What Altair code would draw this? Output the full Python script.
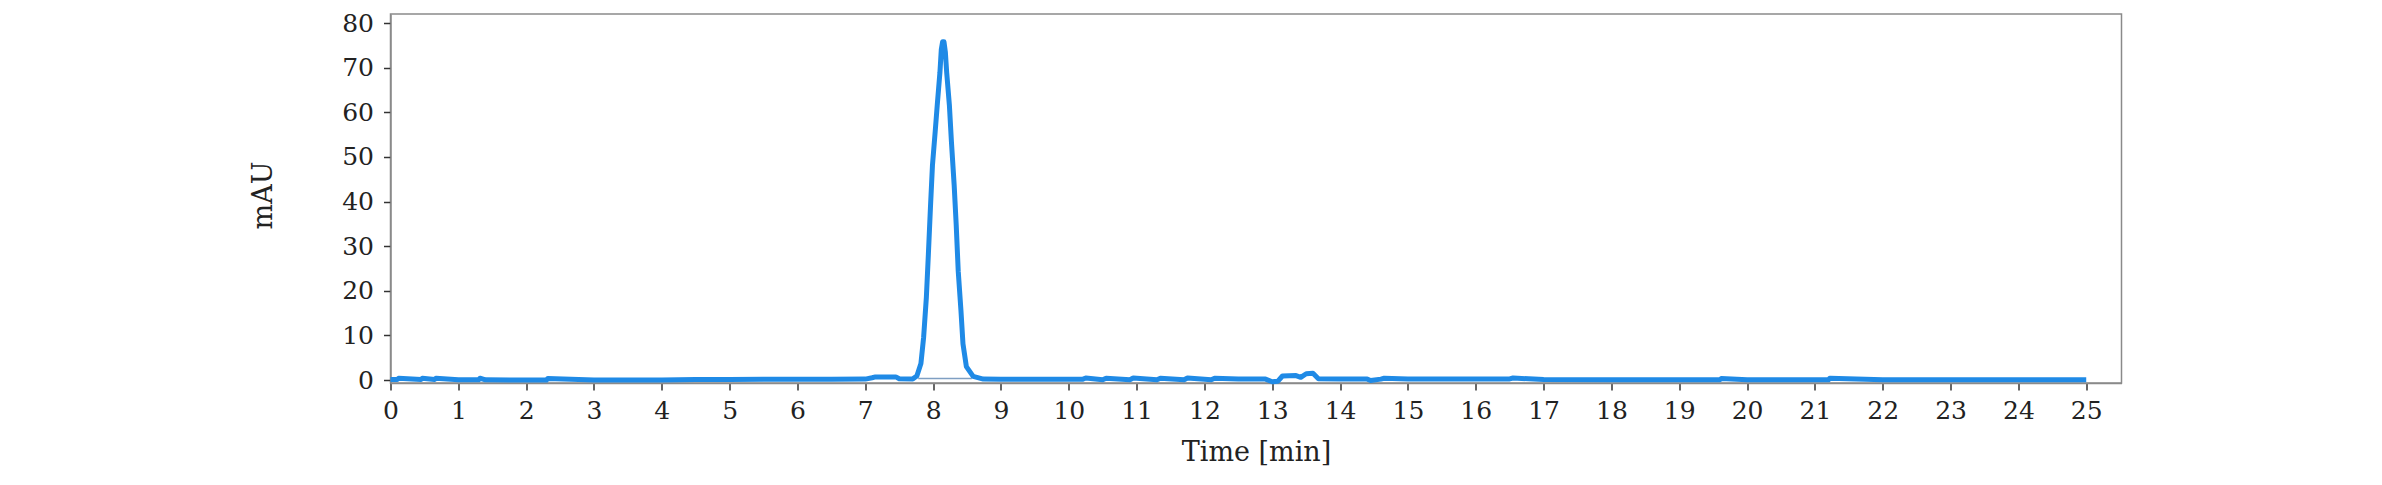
import altair as alt
import pandas as pd

# Chromatogram trace: time [min] and absorbance [mAU]
time_min = [0.0, 0.1, 0.12, 0.45, 0.47, 0.65, 0.67, 1.0, 1.3, 1.32, 1.4, 2.0, 2.3, 2.32,
            3.0, 4.0, 4.5, 5.0, 5.5, 6.0, 6.5, 7.0, 7.1, 7.15, 7.45, 7.5, 7.7,
            7.76, 7.82, 7.86, 7.90, 7.93, 7.96, 7.99, 8.03, 8.06, 8.10, 8.12, 8.14,
            8.16, 8.18, 8.20, 8.24, 8.27, 8.31, 8.34, 8.37, 8.41, 8.44, 8.49, 8.59,
            8.74, 9.0, 9.5, 10.0, 10.2, 10.25, 10.5, 10.55, 10.9, 10.95, 11.3, 11.35,
            11.7, 11.75, 12.1, 12.15, 12.5, 12.9, 13.0, 13.08, 13.15, 13.35, 13.42,
            13.5, 13.6, 13.68, 14.0, 14.4, 14.45, 14.6, 14.65, 15.0, 15.5, 16.0,
            16.5, 16.55, 17.0, 18.0, 19.0, 19.6, 19.62, 20.0, 20.8, 21.0, 21.2, 21.22,
            22.0, 23.0, 24.0, 25.0]
absorbance = [0.1, 0.1, 0.4, 0.1, 0.4, 0.1, 0.4, 0.05, 0.05, 0.4, 0.05, 0.0, 0.0, 0.35,
              0.0, 0.0, 0.1, 0.1, 0.15, 0.15, 0.15, 0.2, 0.5, 0.7, 0.7, 0.3, 0.25,
              0.9, 3.7, 9.6, 18.5, 28.2, 38.5, 48.1, 55.6, 61.5, 68.9, 74.0, 75.8,
              75.8, 73.5, 68.9, 61.5, 53.3, 43.7, 34.8, 24.4, 15.6, 8.1, 3.0, 0.8,
              0.2, 0.15, 0.15, 0.15, 0.15, 0.45, 0.05, 0.4, 0.05, 0.45, 0.05, 0.4,
              0.05, 0.45, 0.05, 0.4, 0.2, 0.2, -0.4, -0.3, 0.9, 1.0, 0.6,
              1.4, 1.5, 0.3, 0.2, 0.2, -0.1, 0.2, 0.4, 0.25, 0.25, 0.25,
              0.25, 0.45, 0.1, 0.05, 0.05, 0.05, 0.35, 0.05, 0.05, 0.05, 0.05, 0.4,
              0.05, 0.05, 0.05, 0.05]

# Integration baseline under the main peak
base_start = [7.78]
base_end = [8.57]
base_level = [0.35]

x_ticks = list(range(0, 26))
y_ticks = list(range(0, 81, 10))

FONT = "DejaVu Serif"

trace = pd.DataFrame({"t": time_min, "a": absorbance})
base = pd.DataFrame({"t0": base_start, "t1": base_end, "a": base_level})

x_scale = alt.Scale(domain=[0, 25.52], nice=False, zero=False)
y_scale = alt.Scale(domain=[-0.67, 82.02], nice=False, zero=False)

line = alt.Chart(trace).mark_line(color="#1f8ae6", strokeWidth=5, strokeJoin="round").encode(
    x=alt.X("t:Q", scale=x_scale,
            axis=alt.Axis(values=x_ticks, title="Time [min]", format="d",
                          titleY=77, titleBaseline="alphabetic")),
    y=alt.Y("a:Q", scale=y_scale,
            axis=alt.Axis(values=y_ticks, title="mAU", format="d",
                          titleAngle=-90, titleX=-127, titleY=181,
                          titleAlign="center", titleBaseline="middle")),
)

rule = alt.Chart(base).mark_rule(color="#7f9fc2", strokeWidth=1.5).encode(
    x=alt.X("t0:Q", scale=x_scale),
    x2="t1:Q",
    y=alt.Y("a:Q", scale=y_scale),
)

chart = (
    alt.layer(rule, line)
    .properties(
        width=1731,
        height=369,
        autosize=alt.AutoSizeParams(type="none"),
        padding={"left": 382.5, "top": 6, "right": 20, "bottom": 100},
        background="white",
    )
    .configure_view(stroke="#8a8a8a", strokeWidth=1.5)
    .configure_axis(
        grid=False,
        domainColor="#8a8a8a",
        domainWidth=1.5,
        tickColor="#333333",
        tickWidth=1.5,
        tickSize=7,
        labelFlush=False,
        labelFont=FONT,
        labelFontSize=25,
        labelColor="#222222",
        titleFont=FONT,
        titleFontSize=27,
        titleFontWeight="normal",
        titleColor="#222222",
    )
    .configure_axisX(labelPadding=8)
    .configure_axisY(labelPadding=10)
)

chart.save("out.html", embed_options={"renderer": "svg", "actions": False})
